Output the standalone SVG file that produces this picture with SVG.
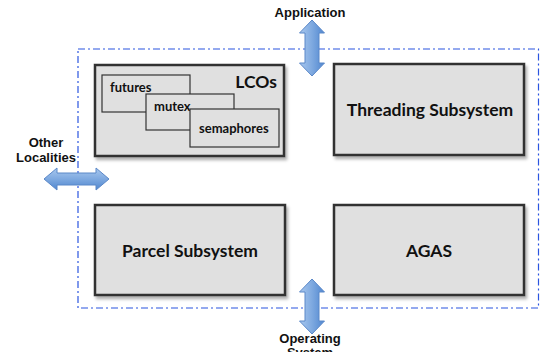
<svg xmlns="http://www.w3.org/2000/svg" width="540" height="352" viewBox="0 0 540 352">
<defs>
<linearGradient id="gv" x1="0" y1="0" x2="1" y2="0">
<stop offset="0" stop-color="#a9c8ee"/>
<stop offset="0.5" stop-color="#7ea9e0"/>
<stop offset="1" stop-color="#4f86cf"/>
</linearGradient>
<linearGradient id="gh" x1="0" y1="0" x2="0" y2="1">
<stop offset="0" stop-color="#a9c8ee"/>
<stop offset="0.5" stop-color="#7ea9e0"/>
<stop offset="1" stop-color="#4f86cf"/>
</linearGradient>
<filter id="sh" x="-10%" y="-10%" width="125%" height="130%">
<feDropShadow dx="2" dy="3" stdDeviation="1.5" flood-color="#000" flood-opacity="0.3"/>
</filter>
</defs>
<style>
.box{fill:#e0e0e0;stroke:#333;stroke-width:2.5}
.sub{fill:#e0e0e0;stroke:#333;stroke-width:1.2}
.bt{font-family:Lato,"Open Sans",sans-serif;font-weight:bold;font-size:17.5px;fill:#111}
.st{font-family:Lato,"Open Sans",sans-serif;font-weight:bold;font-size:13px;fill:#111}
.lbl{font-family:"Liberation Sans",Arial,sans-serif;font-weight:bold;font-size:13px;fill:#111;text-anchor:middle}
.arr{stroke:#5b88c8;stroke-width:1}
.bnd{fill:none;stroke:#2b55e0;stroke-width:1.2;stroke-dasharray:7 3 2 3}
</style>
<rect class="bnd" x="78" y="49" width="460.5" height="259"/>
<g id="lcos">
<rect class="box" x="95" y="65" width="189" height="91" filter="url(#sh)"/>
<text class="bt" x="277" y="88" text-anchor="end">LCOs</text>
<g id="futures">
<rect class="sub" x="102" y="75" width="88" height="37"/>
<text class="st" x="110" y="92">futures</text>
</g>
<g id="mutex">
<rect class="sub" x="146" y="94" width="88" height="36"/>
<text class="st" x="154" y="111">mutex</text>
</g>
<g id="semaphores">
<rect class="sub" x="190" y="109" width="89" height="38"/>
<text class="st" x="199" y="133">semaphores</text>
</g>
</g>
<g id="threading">
<rect class="box" x="334" y="64" width="190" height="91" filter="url(#sh)"/>
<text class="bt" x="430" y="116" text-anchor="middle">Threading Subsystem</text>
</g>
<g id="parcel">
<rect class="box" x="95" y="205" width="190" height="90" filter="url(#sh)"/>
<text class="bt" x="190" y="257" text-anchor="middle">Parcel Subsystem</text>
</g>
<g id="agas">
<rect class="box" x="334" y="205" width="190" height="90" filter="url(#sh)"/>
<text class="bt" x="429" y="257" text-anchor="middle">AGAS</text>
</g>
<g id="connectors">
<path class="arr" fill="url(#gv)" d="M312,20 L324.5,33 L319,33 L319,63 L324.5,63 L312,76 L299.5,63 L305,63 L305,33 L299.5,33 Z"/>
<path class="arr" fill="url(#gv)" d="M312,279 L324.5,292 L319,292 L319,321 L324.5,321 L312,334 L299.5,321 L305,321 L305,292 L299.5,292 Z"/>
<path class="arr" fill="url(#gh)" d="M44,179 L57,168 L57,173 L96,173 L96,168 L109,179 L96,190 L96,185 L57,185 L57,190 Z"/>
</g>
<g id="labels">
<text class="lbl" x="310" y="17">Application</text>
<text class="lbl" x="310" y="343">Operating</text>
<text class="lbl" x="310" y="357">System</text>
<text class="lbl" x="46" y="147">Other</text>
<text class="lbl" x="46" y="162">Localities</text>
</g>
</svg>
